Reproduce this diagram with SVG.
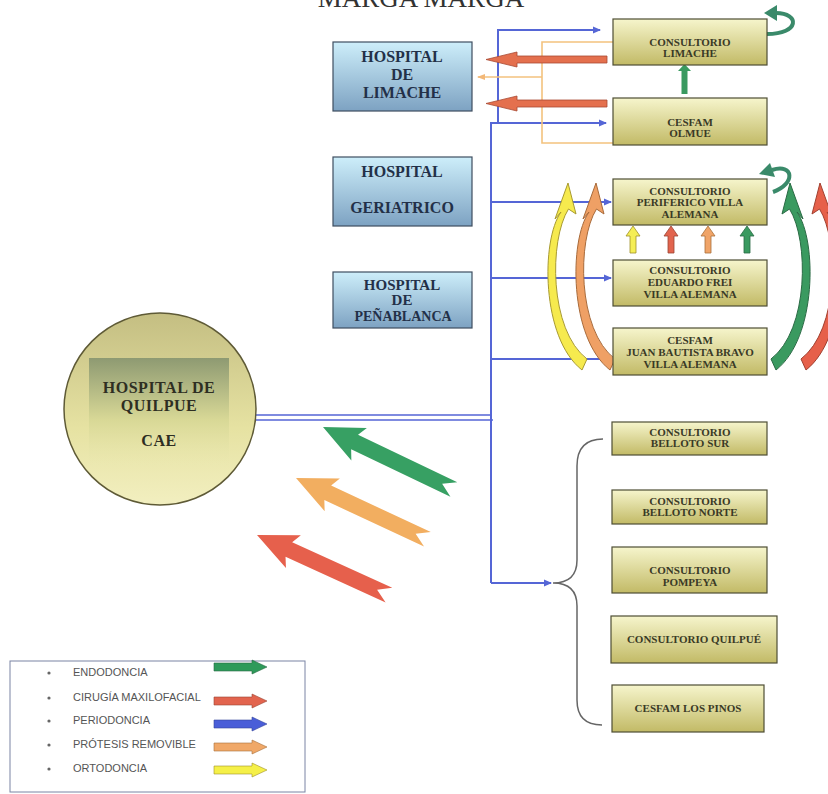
<svg xmlns="http://www.w3.org/2000/svg" width="828" height="794" viewBox="0 0 828 794">
<defs>
<linearGradient id="gHosp" x1="0" y1="0" x2="0" y2="1"><stop offset="0" stop-color="#cdeefa"/><stop offset="1" stop-color="#7da2c2"/></linearGradient>
<linearGradient id="gCons" x1="0" y1="0" x2="0" y2="1"><stop offset="0" stop-color="#f6f5cc"/><stop offset="1" stop-color="#c2ba66"/></linearGradient>
<linearGradient id="gCirc" x1="0" y1="0" x2="0" y2="1"><stop offset="0" stop-color="#c4be82"/><stop offset="0.6" stop-color="#e6e2a2"/><stop offset="1" stop-color="#f2efc0"/></linearGradient>
<linearGradient id="gInner" x1="0" y1="0" x2="0" y2="1"><stop offset="0" stop-color="#8e9a72"/><stop offset="0.55" stop-color="#d8d896"/><stop offset="1" stop-color="#ebe9b2" stop-opacity="0"/></linearGradient>
<marker id="mb" markerWidth="8" markerHeight="8" refX="7" refY="4" orient="auto" markerUnits="userSpaceOnUse"><path d="M0,0.5 L8,4 L0,7.5 Z" fill="#5566d6"/></marker>
<marker id="mo" markerWidth="8" markerHeight="8" refX="7" refY="4" orient="auto" markerUnits="userSpaceOnUse"><path d="M0,1 L8,4 L0,7 Z" fill="#f3b878"/></marker>
<path id="diag" d="M0 0 L40 -18 L35 -8 L145 -8 L132 0 L145 8 L35 8 L40 18 Z"/>
<path id="curv" d="M568 183 L576 214 L568.5 209 C549 240 549 330 587 359 L582 370 C541 338 541 240 561 212 L555 219 Z"/>
<path id="up" d="M0 0 L7 10 L3 10 L3 27 L-3 27 L-3 10 L-7 10 Z"/>
<path id="lg" d="M0 -4 L38 -4 L38 -7 L53 0 L38 7 L38 4 L0 4 Z"/>
</defs>
<style>
.hosp{fill:url(#gHosp);stroke:#3e4e60;stroke-width:1.2}
.cons{fill:url(#gCons);stroke:#4e4e34;stroke-width:1.2}
.th{font-family:"Liberation Serif",serif;font-weight:bold;fill:#233048;text-anchor:middle}
.tq{font-family:"Liberation Serif",serif;font-weight:bold;font-size:16px;fill:#2e2e22;text-anchor:middle;letter-spacing:0.5px}
.tc{font-family:"Liberation Serif",serif;font-weight:bold;font-size:11px;fill:#3a3a26;text-anchor:middle}
.bl{fill:none;stroke:#5566d6;stroke-width:2}
.ol{fill:none;stroke:#f3c27e;stroke-width:1.6}
.lt{font-family:"Liberation Sans",Arial,sans-serif;font-size:11px;fill:#555}
</style>
<rect width="828" height="794" fill="#ffffff"/>
<text x="421" y="7" font-family="Liberation Serif,serif" font-size="27" fill="#333" text-anchor="middle">MARGA MARGA</text>

<g id="connectors">
<path class="bl" d="M491 583 L491 123 L606 123" marker-end="url(#mb)"/>
<path class="bl" d="M498 123 L498 30 L600 30" marker-end="url(#mb)"/>
<path class="bl" d="M491 583 L551 583" marker-end="url(#mb)"/>
<path class="bl" d="M491 202 L611 202" marker-end="url(#mb)"/>
<path class="bl" d="M491 278 L611 278" marker-end="url(#mb)"/>
<path class="bl" d="M491 359 L611 359" marker-end="url(#mb)"/>
<path fill="none" stroke="#5566d6" stroke-width="1.6" d="M256 415 L491 415 M256 420 L493 420"/>
<path class="ol" d="M613 42 L542 42 L542 143 L613 143"/>
<path class="ol" d="M542 77 L478 77" marker-end="url(#mo)"/>
<path d="M607 56 L517 56 L517 52 L486 59.5 L517 67 L517 63 L607 63 Z" fill="#e4704e" stroke="#a84a34" stroke-width="0.8"/>
<path d="M607 100 L517 100 L517 96 L486 103.5 L517 111 L517 107 L607 107 Z" fill="#e4704e" stroke="#a84a34" stroke-width="0.8"/>
<path d="M684.5 64 L691 71 L687.5 71 L687.5 94 L681.5 94 L681.5 71 L678 71 Z" fill="#3a9a60"/>
<use href="#up" transform="translate(633,226)" fill="#f5ee55" stroke="#a09028" stroke-width="0.8"/>
<use href="#up" transform="translate(671,226)" fill="#e2644e" stroke="#9a4432" stroke-width="0.8"/>
<use href="#up" transform="translate(708,226)" fill="#f0a468" stroke="#a8703a" stroke-width="0.8"/>
<use href="#up" transform="translate(747,226)" fill="#3a9a60" stroke="#2a6a44" stroke-width="0.8"/>
<path d="M767 34 C800 34 800 13 776 13" fill="none" stroke="#3a8a6a" stroke-width="4"/>
<path d="M764 13 L777 5 L777 21 Z" fill="#3a8a6a"/>
<path d="M773 192 C796 184 794 163 772 170" fill="none" stroke="#3a8a6a" stroke-width="4"/>
<path d="M759 174 L770 163 L775 177 Z" fill="#3a8a6a"/>
<use href="#curv" fill="#f6ea4e" stroke="#a89a30" stroke-width="1"/>
<use href="#curv" transform="translate(28,0)" fill="#efa065" stroke="#a86a3a" stroke-width="1"/>
<use href="#curv" transform="translate(1358,0) scale(-1,1)" fill="#3a9a60" stroke="#2a6a44" stroke-width="1"/>
<use href="#curv" transform="translate(1388,0) scale(-1,1)" fill="#e6604a" stroke="#a04030" stroke-width="1"/>
<use href="#diag" transform="translate(323,427) rotate(25.5)" fill="#37a063"/>
<use href="#diag" transform="translate(296,478) rotate(25)" fill="#f2ae60"/>
<use href="#diag" transform="translate(257,535) rotate(24.5)" fill="#e6604c"/>
<path d="M603 439 Q577 439 577 466 L577 560 Q577 583 553 583 Q577 583 577 606 L577 700 Q577 725 602 725" fill="none" stroke="#666" stroke-width="1.5"/>
</g>

<g id="hospital-quilpue">
<circle cx="160" cy="409" r="96" fill="url(#gCirc)" stroke="#5e5a36" stroke-width="1.5"/>
<rect x="89" y="358" width="140" height="112" fill="url(#gInner)"/>
<text class="tq" x="159" y="393">HOSPITAL DE</text>
<text class="tq" x="159" y="411">QUILPUE</text>
<text class="tq" x="159" y="446">CAE</text>
</g>

<g id="hospital-limache">
<rect class="hosp" x="333" y="42" width="139" height="69"/>
<text class="th" x="402" y="62" font-size="16">HOSPITAL</text>
<text class="th" x="402" y="80" font-size="16">DE</text>
<text class="th" x="402" y="98" font-size="16">LIMACHE</text>
</g>
<g id="hospital-geriatrico">
<rect class="hosp" x="333" y="157" width="139" height="69"/>
<text class="th" x="402" y="177" font-size="16">HOSPITAL</text>
<text class="th" x="402" y="213" font-size="16">GERIATRICO</text>
</g>
<g id="hospital-penablanca">
<rect class="hosp" x="333" y="272" width="139" height="56"/>
<text class="th" x="402" y="290" font-size="15">HOSPITAL</text>
<text class="th" x="402" y="305" font-size="15">DE</text>
<text class="th" x="403" y="321" font-size="14">PEÑABLANCA</text>
</g>

<g id="consultorio-limache">
<rect class="cons" x="613" y="19" width="154" height="46"/>
<text class="tc" x="690" y="46">CONSULTORIO</text>
<text class="tc" x="690" y="57">LIMACHE</text>
</g>
<g id="cesfam-olmue">
<rect class="cons" x="613" y="98" width="154" height="47"/>
<text class="tc" x="690" y="126">CESFAM</text>
<text class="tc" x="690" y="137">OLMUE</text>
</g>
<g id="consultorio-periferico">
<rect class="cons" x="613" y="179" width="154" height="46"/>
<text class="tc" x="690" y="195">CONSULTORIO</text>
<text class="tc" x="690" y="206">PERIFERICO VILLA</text>
<text class="tc" x="690" y="218">ALEMANA</text>
</g>
<g id="consultorio-eduardo-frei">
<rect class="cons" x="613" y="260" width="154" height="46"/>
<text class="tc" x="690" y="274">CONSULTORIO</text>
<text class="tc" x="690" y="286">EDUARDO FREI</text>
<text class="tc" x="690" y="298">VILLA ALEMANA</text>
</g>
<g id="cesfam-juan-bautista">
<rect class="cons" x="613" y="328" width="154" height="47"/>
<text class="tc" x="690" y="344">CESFAM</text>
<text class="tc" x="690" y="356">JUAN BAUTISTA BRAVO</text>
<text class="tc" x="690" y="368">VILLA ALEMANA</text>
</g>
<g id="consultorio-belloto-sur">
<rect class="cons" x="612" y="422" width="155" height="33"/>
<text class="tc" x="690" y="436">CONSULTORIO</text>
<text class="tc" x="690" y="447">BELLOTO SUR</text>
</g>
<g id="consultorio-belloto-norte">
<rect class="cons" x="612" y="490" width="155" height="34"/>
<text class="tc" x="690" y="505">CONSULTORIO</text>
<text class="tc" x="690" y="516">BELLOTO NORTE</text>
</g>
<g id="consultorio-pompeya">
<rect class="cons" x="612" y="547" width="155" height="46"/>
<text class="tc" x="690" y="574">CONSULTORIO</text>
<text class="tc" x="690" y="586">POMPEYA</text>
</g>
<g id="consultorio-quilpue">
<rect class="cons" x="611" y="616" width="166" height="47"/>
<text class="tc" x="694" y="643">CONSULTORIO QUILPUÉ</text>
</g>
<g id="cesfam-los-pinos">
<rect class="cons" x="612" y="685" width="152" height="47"/>
<text class="tc" x="688" y="712">CESFAM LOS PINOS</text>
</g>

<g id="legend">
<rect x="10" y="661" width="295" height="131" fill="#fff" stroke="#7a84a4" stroke-width="1"/>
<g fill="#666">
<circle cx="49" cy="673" r="1.6"/><circle cx="49" cy="698" r="1.6"/><circle cx="49" cy="721" r="1.6"/><circle cx="49" cy="745" r="1.6"/><circle cx="49" cy="769" r="1.6"/>
</g>
<text class="lt" x="73" y="676">ENDODONCIA</text>
<text class="lt" x="73" y="701">CIRUGÍA MAXILOFACIAL</text>
<text class="lt" x="73" y="724">PERIODONCIA</text>
<text class="lt" x="73" y="748">PRÓTESIS REMOVIBLE</text>
<text class="lt" x="73" y="772">ORTODONCIA</text>
<use href="#lg" transform="translate(214,667)" fill="#2e9a5a" stroke="#2a6a44" stroke-width="0.6"/>
<use href="#lg" transform="translate(214,701)" fill="#e2644e" stroke="#9a4432" stroke-width="0.6"/>
<use href="#lg" transform="translate(214,724)" fill="#4a5ed8" stroke="#34449a" stroke-width="0.6"/>
<use href="#lg" transform="translate(214,747)" fill="#f0a868" stroke="#a8703a" stroke-width="0.6"/>
<use href="#lg" transform="translate(214,770)" fill="#f5f048" stroke="#a09028" stroke-width="0.6"/>
</g>
</svg>
